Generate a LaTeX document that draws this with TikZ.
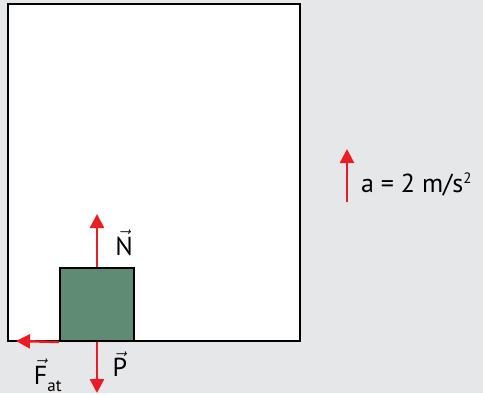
\documentclass[tikz,border=0pt]{standalone}
\usepackage{fontspec}
\setmainfont{PT Sans}
\usetikzlibrary{arrows.meta}
\definecolor{bggray}{HTML}{E6E7E8}
\definecolor{forcered}{HTML}{ED1C24}
\definecolor{blockgreen}{HTML}{5F8A73}
\newcommand{\vecsym}[1]{$\vec{\hbox{#1}}$}
\tikzset{
  force/.style={draw=forcered, line width=2.4pt, -{Triangle[width=14pt,length=14pt]}},
  lbl/.style={font=\fontsize{26}{28}\selectfont, inner sep=0pt}
}
\begin{document}
\begin{tikzpicture}[x=1pt, y=-1pt, line width=2pt]
  % background and elevator
  \fill[bggray] (0,0) rectangle (483,393);
  \draw[fill=white] (8,4) rectangle (300,341);
  % block on the floor
  \node[draw, fill=blockgreen, minimum width=74pt, minimum height=73pt, inner sep=0pt]
    (block) at (97,304.5) {};
  \coordinate (ntip) at (97,214);
  \coordinate (ptip) at (97,393);
  \coordinate (ftip) at (16,341);
  \draw[force] (block.north) -- (ntip);
  \draw[force] (block.south) -- (ptip);
  \draw[force] (block.south west) -- (ftip);
  \node[lbl] (nlbl) at (124,243) {\vecsym{N}};
  \node[lbl] (plbl) at (120,364) {\vecsym{P}};
  \node[lbl, anchor=base west] (flbl) at (33,384)
    {\vecsym{F}\raisebox{-7pt}{\fontsize{17}{18}\selectfont at}};
  % acceleration
  \coordinate (abot) at (347,202);
  \coordinate (atop) at (347,149);
  \draw[force] (abot) -- (atop);
  \node[lbl, anchor=west] (albl) at (360,184)
    {a = 2 m/s\raisebox{9pt}{\fontsize{15}{16}\selectfont 2}};
\end{tikzpicture}
\end{document}
